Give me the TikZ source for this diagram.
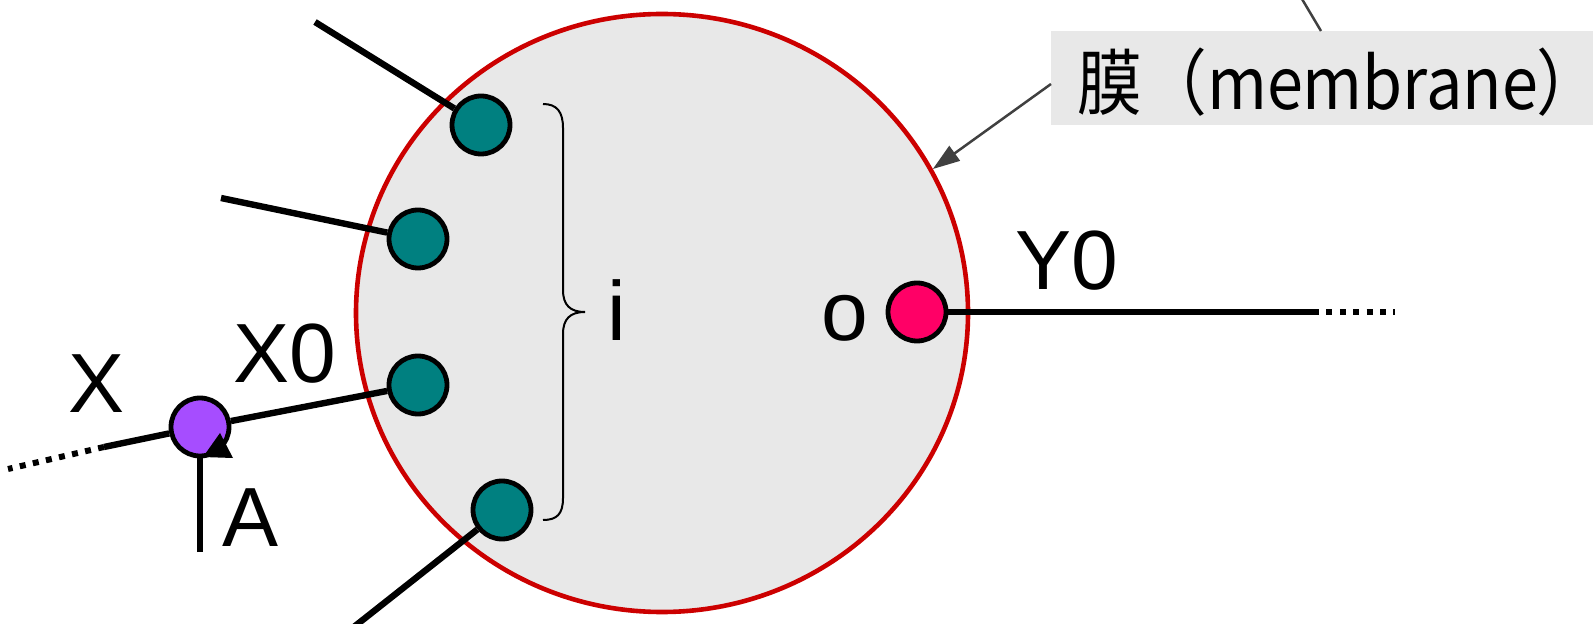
\documentclass[tikz,border=0pt]{standalone}
\usepackage{fontspec}
\setmainfont{Liberation Sans}
\newfontfamily\jpfont[FakeStretch=0.90]{Noto Sans CJK JP}
\newfontfamily\jppalt[FakeStretch=0.90,RawFeature=+palt]{Noto Sans CJK JP}
\usetikzlibrary{shapes.geometric,arrows.meta,calc,backgrounds}

\definecolor{cellgray}{HTML}{E8E8E8}
\definecolor{membranered}{HTML}{CC0000}
\definecolor{inputteal}{HTML}{008080}
\definecolor{outputpink}{HTML}{FF0066}
\definecolor{synpurple}{HTML}{A64DFF}
\definecolor{leadergray}{HTML}{404040}

\begin{document}
\begin{tikzpicture}[x=0.5pt,y=-0.5pt,
  cellbody/.style={ellipse, draw=membranered, line width=2.3pt, fill=cellgray,
    minimum width=306pt, minimum height=299pt, inner sep=0pt},
  port/.style={circle, draw=black, line width=2.4pt, minimum size=29pt, inner sep=0pt},
  wire/.style={line width=3.2pt},
  dotwire/.style={line width=3pt, dash pattern=on 3pt off 3.7pt},
  leader/.style={draw=leadergray, line width=1.25pt},
  lbl/.style={font=\fontsize{42}{50}\selectfont, inner sep=0pt}]

\useasboundingbox (0,0) rectangle (1593,624);
\clip (0,0) rectangle (1593,624);

% cell body with its membrane
\node[cellbody] (cell) at (662,313) {};

% input, output and synapse terminals
\node[port, fill=inputteal] (n1) at (481,125) {};
\node[port, fill=inputteal] (n2) at (418,239) {};
\node[port, fill=inputteal] (n3) at (418,385) {};
\node[port, fill=inputteal] (n4) at (502,510) {};
\node[port, fill=outputpink] (po) at (917,312) {};
\node[port, fill=synpurple] (pa) at (200,427) {};

% free ends of the wires
\coordinate (in1) at (315,22);
\coordinate (in2) at (221,198);
\coordinate (in4) at (350,630);
\coordinate (xs) at (104,447);
\coordinate (xe) at (8,469);
\coordinate (ys) at (1313,312);
\coordinate (ye) at (1395,312);
\coordinate (ab) at (200,552);

% wires
\draw[wire] (in1) -- (n1);
\draw[wire] (in2) -- (n2);
\draw[wire] (n3) -- (pa);
\draw[wire] (pa) -- (xs);
\draw[dotwire] (xs) -- (xe);
\draw[wire] (n4) -- (in4);
\draw[wire] (po) -- (ys);
\draw[dotwire] (ys) -- (ye);
\draw[wire] (ab) -- (pa);
\fill (220,433) -- (203,457) -- (233,458) -- cycle;

% brace grouping the inputs
\draw[line width=1pt] (543,104) .. controls (557,104) and (563,112) .. (563,128)
  -- (563,290) .. controls (563,305) and (570,312) .. (585,312)
  .. controls (570,312) and (563,319) .. (563,334)
  -- (563,498) .. controls (563,514) and (557,520) .. (543,520);

% labels
\node[lbl] (lx) at (97,384) {X};
\node[lbl] (lx0) at (285,354) {X0};
\node[lbl] (la) at (251,518) {A};
\node[lbl] (ly0) at (1067,261) {Y0};
\node[lbl] (lo) at (845,318) {o};
\node[lbl] (li) at (617,310) {i};

% membrane callout: grey panel running to the right edge
\node[anchor=west, inner sep=0pt, font=\jpfont\fontsize{36}{42}\selectfont]
  (mem) at (1077,82) {膜（membrane{\jppalt ）}};
\begin{scope}[on background layer]
  \fill[cellgray] (1051,31) rectangle (1593,125);
\end{scope}
\coordinate (memleft) at (1051,84);
\coordinate (memtop) at (1321,31);
\coordinate (memup) at (1299,-6);
\draw[leader, -{Triangle[length=13.5pt,width=9pt]}] (memleft) -- (cell.28.8);
\draw[leader] (memtop) -- (memup);
\end{tikzpicture}
\end{document}
